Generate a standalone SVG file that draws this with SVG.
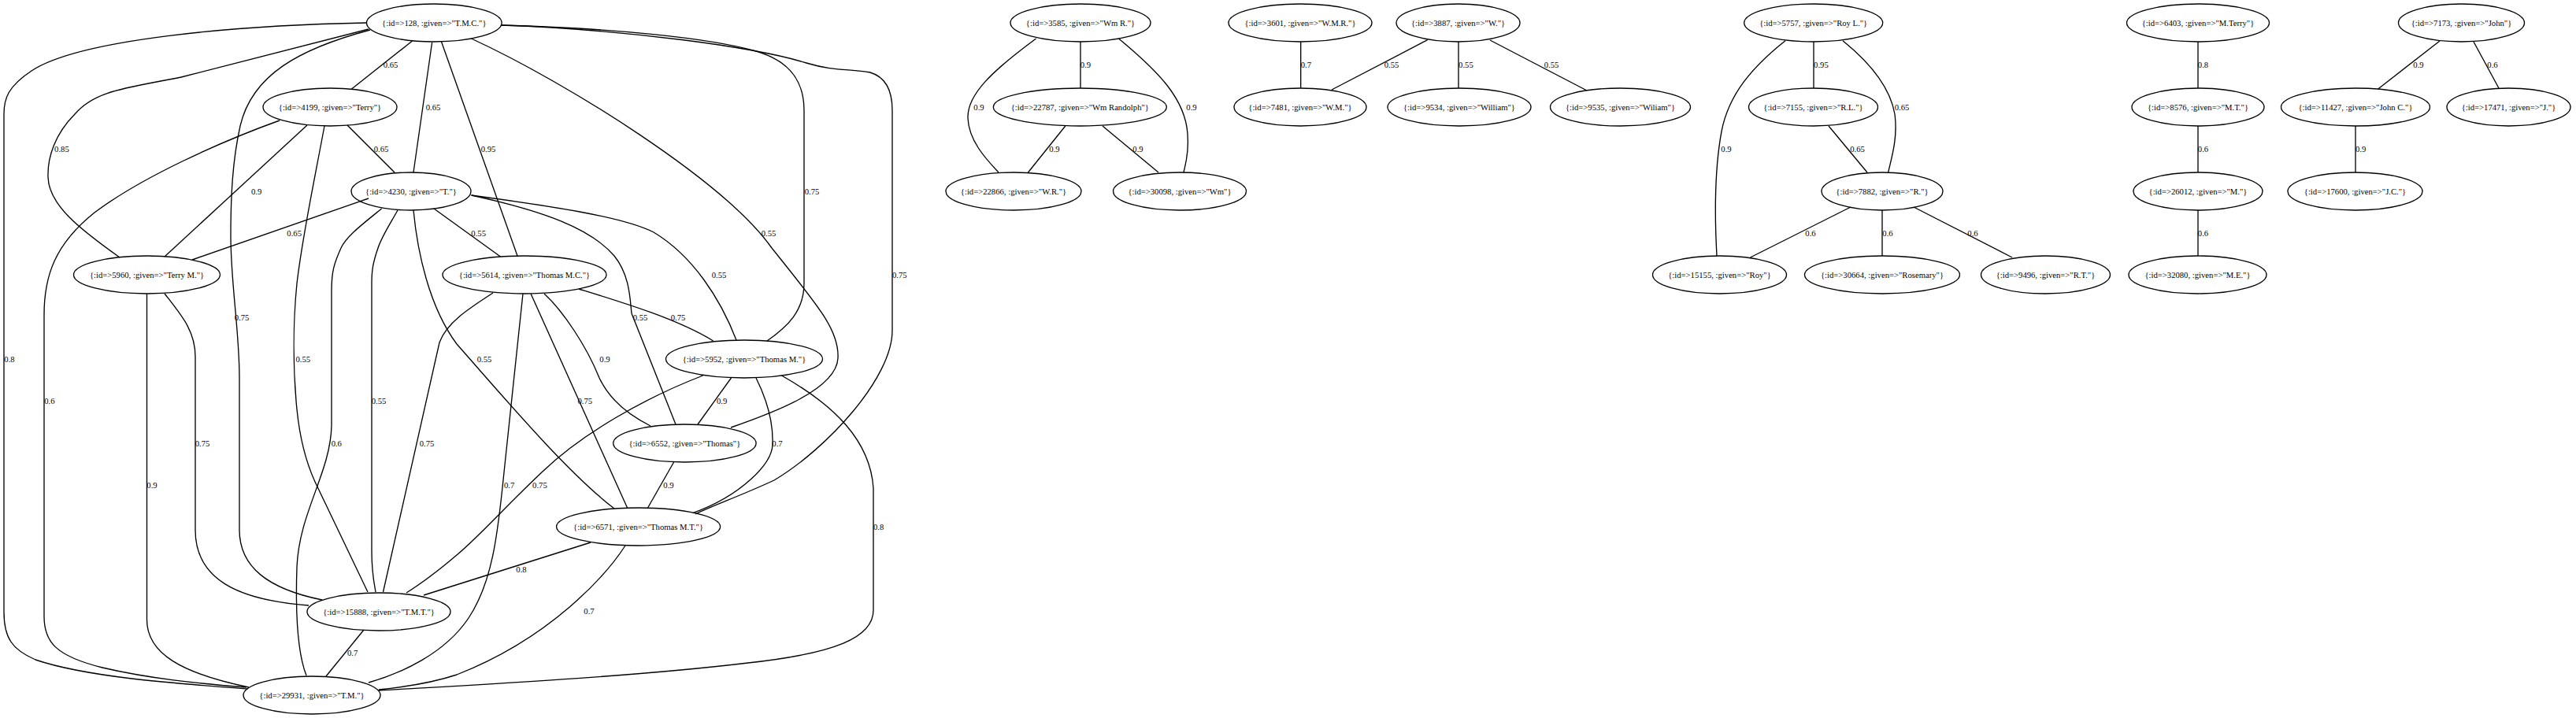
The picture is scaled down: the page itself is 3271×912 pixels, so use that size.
<svg xmlns="http://www.w3.org/2000/svg" width="3271" height="912" viewBox="0 0 3271 912">
<style>
.n ellipse{fill:none;stroke:#000;stroke-width:1.33}
text{font-family:"Liberation Serif","Times New Roman",serif;font-size:10.67px;text-anchor:middle;fill:#000}
#edges path{fill:none;stroke:#000;stroke-width:1.33}
</style>
<rect width="3271" height="912" fill="#fff"/>
<g id="edges">
<path d="M523.5,52 L446.5,113"/>
<path d="M548.6,54 L525,219"/>
<path d="M468,37 C380,60 300,80 230,98 C160,112 120,115 95,145 C70,170 60,200 61,225 C62,260 100,290 152,327"/>
<path d="M560.5,53 L657,325"/>
<path d="M637,32 C780,36 900,48 960,65 C1005,78 1021,105 1021,140 L1021,360 C1021,395 1000,415 974,433"/>
<path d="M598.5,49 C720,105 920,230 980,315 C1040,390 1066,420 1064,455 C1062,495 980,525 928,543"/>
<path d="M637,32 C800,38 960,60 1024,80 C1060,91 1080,87 1105,92 C1125,98 1133,115 1133,140 L1133,420 C1133,480 1050,570 983,610 C940,630 905,642 883,653"/>
<path d="M470,38 C380,62 320,95 305,160 C295,205 293,250 293,300 C293,360 304,420 304,480 L304,673 C304,720 340,748 409,762"/>
<path d="M465,29 C300,32 100,50 40,90 C10,110 5,125 5,145 L5,777 C5,810 15,825 45,838 C110,860 220,868 314.5,875"/>
<path d="M441,159 L501,219"/>
<path d="M390,159 L209,326"/>
<path d="M412,160 C398,235 384,300 377,360 C372,410 372,470 377,520 C381,560 390,590 400,612 L467,752"/>
<path d="M355,153 C280,180 180,225 120,270 C70,310 56,350 56,400 L56,783 C56,815 70,833 130,848 C190,862 250,868 312.6,873"/>
<path d="M468,252 L244,330"/>
<path d="M551,265 L635.5,326"/>
<path d="M598.5,248 C700,262 790,275 830,295 C880,325 915,380 935,432"/>
<path d="M598.5,248 C690,268 750,290 780,325 C800,350 800,380 802,398 L858,539"/>
<path d="M525,267 C530,320 545,390 580,437 C640,505 720,600 780,646"/>
<path d="M505,267 C495,285 485,300 480,315 C473,335 472,345 472,360 L472,700 C472,730 476,745 477,752"/>
<path d="M484.6,265 C460,285 440,300 433,315 C424,335 421,345 421,370 L421,540 C420,600 380,650 377,720 C375,780 378,830 389,858"/>
<path d="M735,367 C790,384 860,405 905.6,433"/>
<path d="M691,373 C715,395 745,440 761,480 C775,510 800,528 826,541"/>
<path d="M674,373 L797,646"/>
<path d="M626,372 C595,392 567,410 558,435 L486.5,752"/>
<path d="M664,373 L640,600 C632,680 625,740 595,785 C565,830 510,855 468,867"/>
<path d="M928.5,480 L886,539"/>
<path d="M960,480 C975,510 982,540 981,565 C980,590 940,630 879.7,651.7"/>
<path d="M892.6,477 C820,505 740,550 690,598 C640,645 610,680 580,705 C560,722 540,738 516,753"/>
<path d="M992.5,477 C1060,515 1105,560 1109,620 L1109,775 C1109,810 1060,830 950,842 C800,860 600,870 481,877"/>
<path d="M855.6,587 L822,646"/>
<path d="M209,373 C230,400 248,420 248,453 L248,673 C248,735 300,762 392,769"/>
<path d="M186.5,373 L186.5,787 C186.5,830 230,855 316,873"/>
<path d="M750,689 L538,756"/>
<path d="M794,693 C770,730 700,810 580,857 C550,867 510,873 481,876"/>
<path d="M462,800 L414,859"/>
<path d="M1372,53 L1372,112"/>
<path d="M1315.6,49 C1260,90 1228,120 1229,150 C1230,180 1255,205 1268,219"/>
<path d="M1420.5,49 C1470,90 1505,125 1508,170 C1510,195 1505,210 1503,219"/>
<path d="M1352.8,160 L1305.5,219"/>
<path d="M1400,160 L1471,219"/>
<path d="M1651.7,53 L1651.7,112"/>
<path d="M1812.6,50.7 L1691,114"/>
<path d="M1852,53 L1852,112"/>
<path d="M1892,51 L2015,115"/>
<path d="M2303,53 L2303,112"/>
<path d="M2267,51.7 C2225,85 2195,120 2186,167 C2178,210 2177,270 2180,325"/>
<path d="M2340,51.7 C2375,80 2400,110 2406,145 C2410,175 2402,200 2397.6,219"/>
<path d="M2322,160 L2371,219"/>
<path d="M2350,263 L2222.5,327"/>
<path d="M2390,267 L2390,325"/>
<path d="M2430,263 L2555,327"/>
<path d="M2791,53 L2791,112"/>
<path d="M2791,160 L2791,219"/>
<path d="M2791,267 L2791,325"/>
<path d="M3098,52 L3019.7,113"/>
<path d="M3141,53 L3173,112"/>
<path d="M2991,160 L2991,219"/>
</g>
<g id="edge-labels">
<text x="496" y="85.7">0.65</text>
<text x="550" y="139.7">0.65</text>
<text x="78.4" y="192.7">0.85</text>
<text x="620" y="192.7">0.95</text>
<text x="1031" y="246.7">0.75</text>
<text x="976" y="299.7">0.55</text>
<text x="1142.3" y="352.7">0.75</text>
<text x="307" y="406.7">0.75</text>
<text x="12" y="459.7">0.8</text>
<text x="484" y="192.7">0.65</text>
<text x="325.6" y="246.7">0.9</text>
<text x="384.8" y="459.7">0.55</text>
<text x="62.9" y="512.7">0.6</text>
<text x="373.7" y="299.7">0.65</text>
<text x="607.7" y="299.7">0.55</text>
<text x="913" y="352.7">0.55</text>
<text x="813" y="406.7">0.55</text>
<text x="615" y="459.7">0.55</text>
<text x="481" y="512.7">0.55</text>
<text x="427.3" y="566.7">0.6</text>
<text x="861" y="406.7">0.75</text>
<text x="768" y="459.7">0.9</text>
<text x="742.8" y="512.7">0.75</text>
<text x="542" y="566.7">0.75</text>
<text x="646.6" y="619.7">0.7</text>
<text x="916.7" y="512.7">0.9</text>
<text x="987" y="566.7">0.7</text>
<text x="685.4" y="619.7">0.75</text>
<text x="1115.7" y="672.7">0.8</text>
<text x="849" y="619.7">0.9</text>
<text x="257" y="566.7">0.75</text>
<text x="193" y="619.7">0.9</text>
<text x="662" y="726.7">0.8</text>
<text x="748" y="779.7">0.7</text>
<text x="447.6" y="832.7">0.7</text>
<text x="1378.5" y="85.7">0.9</text>
<text x="1243" y="139.7">0.9</text>
<text x="1513" y="139.7">0.9</text>
<text x="1339" y="192.7">0.9</text>
<text x="1445" y="192.7">0.9</text>
<text x="1658.4" y="85.7">0.7</text>
<text x="1767" y="85.7">0.55</text>
<text x="1861.4" y="85.7">0.55</text>
<text x="1970" y="85.7">0.55</text>
<text x="2312.4" y="85.7">0.95</text>
<text x="2192" y="192.7">0.9</text>
<text x="2415" y="139.7">0.65</text>
<text x="2358.5" y="192.7">0.65</text>
<text x="2299" y="299.7">0.6</text>
<text x="2397" y="299.7">0.6</text>
<text x="2505" y="299.7">0.6</text>
<text x="2797.5" y="85.7">0.8</text>
<text x="2797.5" y="192.7">0.6</text>
<text x="2797.5" y="299.7">0.6</text>
<text x="3071" y="85.7">0.9</text>
<text x="3165" y="85.7">0.6</text>
<text x="2997.7" y="192.7">0.9</text>
</g>
<g id="n128" class="n"><ellipse cx="551.3" cy="29" rx="85.8" ry="24"/><text x="551.3" y="32.7">{:id=&gt;128, :given=&gt;"T.M.C."}</text></g>
<g id="n4199" class="n"><ellipse cx="419" cy="136" rx="85" ry="24"/><text x="419" y="139.7">{:id=&gt;4199, :given=&gt;"Terry"}</text></g>
<g id="n4230" class="n"><ellipse cx="522" cy="243" rx="76" ry="24"/><text x="522" y="246.7">{:id=&gt;4230, :given=&gt;"T."}</text></g>
<g id="n5960" class="n"><ellipse cx="186.5" cy="349" rx="93" ry="24"/><text x="186.5" y="352.7">{:id=&gt;5960, :given=&gt;"Terry M."}</text></g>
<g id="n5614" class="n"><ellipse cx="666" cy="349" rx="104" ry="24"/><text x="666" y="352.7">{:id=&gt;5614, :given=&gt;"Thomas M.C."}</text></g>
<g id="n5952" class="n"><ellipse cx="945" cy="456" rx="99.5" ry="24"/><text x="945" y="459.7">{:id=&gt;5952, :given=&gt;"Thomas M."}</text></g>
<g id="n6552" class="n"><ellipse cx="869.4" cy="563" rx="90.7" ry="24"/><text x="869.4" y="566.7">{:id=&gt;6552, :given=&gt;"Thomas"}</text></g>
<g id="n6571" class="n"><ellipse cx="810.6" cy="669" rx="104" ry="24"/><text x="810.6" y="672.7">{:id=&gt;6571, :given=&gt;"Thomas M.T."}</text></g>
<g id="n15888" class="n"><ellipse cx="481" cy="777" rx="91" ry="24"/><text x="481" y="780.7">{:id=&gt;15888, :given=&gt;"T.M.T."}</text></g>
<g id="n29931" class="n"><ellipse cx="396" cy="883" rx="87" ry="24"/><text x="396" y="886.7">{:id=&gt;29931, :given=&gt;"T.M."}</text></g>
<g id="n3585" class="n"><ellipse cx="1372" cy="29" rx="89" ry="24"/><text x="1372" y="32.7">{:id=&gt;3585, :given=&gt;"Wm R."}</text></g>
<g id="n22787" class="n"><ellipse cx="1371.3" cy="136" rx="110" ry="24"/><text x="1371.3" y="139.7">{:id=&gt;22787, :given=&gt;"Wm Randolph"}</text></g>
<g id="n22866" class="n"><ellipse cx="1287" cy="243" rx="86" ry="24"/><text x="1287" y="246.7">{:id=&gt;22866, :given=&gt;"W.R."}</text></g>
<g id="n30098" class="n"><ellipse cx="1498" cy="243" rx="84.5" ry="24"/><text x="1498" y="246.7">{:id=&gt;30098, :given=&gt;"Wm"}</text></g>
<g id="n3601" class="n"><ellipse cx="1651" cy="29" rx="91" ry="24"/><text x="1651" y="32.7">{:id=&gt;3601, :given=&gt;"W.M.R."}</text></g>
<g id="n3887" class="n"><ellipse cx="1851.5" cy="29" rx="78.5" ry="24"/><text x="1851.5" y="32.7">{:id=&gt;3887, :given=&gt;"W."}</text></g>
<g id="n7481" class="n"><ellipse cx="1651" cy="136" rx="84" ry="24"/><text x="1651" y="139.7">{:id=&gt;7481, :given=&gt;"W.M."}</text></g>
<g id="n9534" class="n"><ellipse cx="1853" cy="136" rx="91" ry="24"/><text x="1853" y="139.7">{:id=&gt;9534, :given=&gt;"William"}</text></g>
<g id="n9535" class="n"><ellipse cx="2057.5" cy="136" rx="89" ry="24"/><text x="2057.5" y="139.7">{:id=&gt;9535, :given=&gt;"Wiliam"}</text></g>
<g id="n5757" class="n"><ellipse cx="2302.7" cy="29" rx="88" ry="24"/><text x="2302.7" y="32.7">{:id=&gt;5757, :given=&gt;"Roy L."}</text></g>
<g id="n7155" class="n"><ellipse cx="2302.5" cy="136" rx="82" ry="24"/><text x="2302.5" y="139.7">{:id=&gt;7155, :given=&gt;"R.L."}</text></g>
<g id="n7882" class="n"><ellipse cx="2390" cy="243" rx="77" ry="24"/><text x="2390" y="246.7">{:id=&gt;7882, :given=&gt;"R."}</text></g>
<g id="n15155" class="n"><ellipse cx="2183.5" cy="349" rx="85" ry="24"/><text x="2183.5" y="352.7">{:id=&gt;15155, :given=&gt;"Roy"}</text></g>
<g id="n30664" class="n"><ellipse cx="2390" cy="349" rx="98.5" ry="24"/><text x="2390" y="352.7">{:id=&gt;30664, :given=&gt;"Rosemary"}</text></g>
<g id="n9496" class="n"><ellipse cx="2597.5" cy="349" rx="82" ry="24"/><text x="2597.5" y="352.7">{:id=&gt;9496, :given=&gt;"R.T."}</text></g>
<g id="n6403" class="n"><ellipse cx="2791" cy="29" rx="90.5" ry="24"/><text x="2791" y="32.7">{:id=&gt;6403, :given=&gt;"M.Terry"}</text></g>
<g id="n8576" class="n"><ellipse cx="2791" cy="136" rx="84" ry="24"/><text x="2791" y="139.7">{:id=&gt;8576, :given=&gt;"M.T."}</text></g>
<g id="n26012" class="n"><ellipse cx="2791" cy="243" rx="82" ry="24"/><text x="2791" y="246.7">{:id=&gt;26012, :given=&gt;"M."}</text></g>
<g id="n32080" class="n"><ellipse cx="2790.5" cy="349" rx="87.5" ry="24"/><text x="2790.5" y="352.7">{:id=&gt;32080, :given=&gt;"M.E."}</text></g>
<g id="n7173" class="n"><ellipse cx="3125.5" cy="29" rx="80" ry="24"/><text x="3125.5" y="32.7">{:id=&gt;7173, :given=&gt;"John"}</text></g>
<g id="n11427" class="n"><ellipse cx="2991" cy="136" rx="94.5" ry="24"/><text x="2991" y="139.7">{:id=&gt;11427, :given=&gt;"John C."}</text></g>
<g id="n17471" class="n"><ellipse cx="3185.5" cy="136" rx="78.5" ry="24"/><text x="3185.5" y="139.7">{:id=&gt;17471, :given=&gt;"J."}</text></g>
<g id="n17600" class="n"><ellipse cx="2990.5" cy="243" rx="85.5" ry="24"/><text x="2990.5" y="246.7">{:id=&gt;17600, :given=&gt;"J.C."}</text></g>
</svg>
